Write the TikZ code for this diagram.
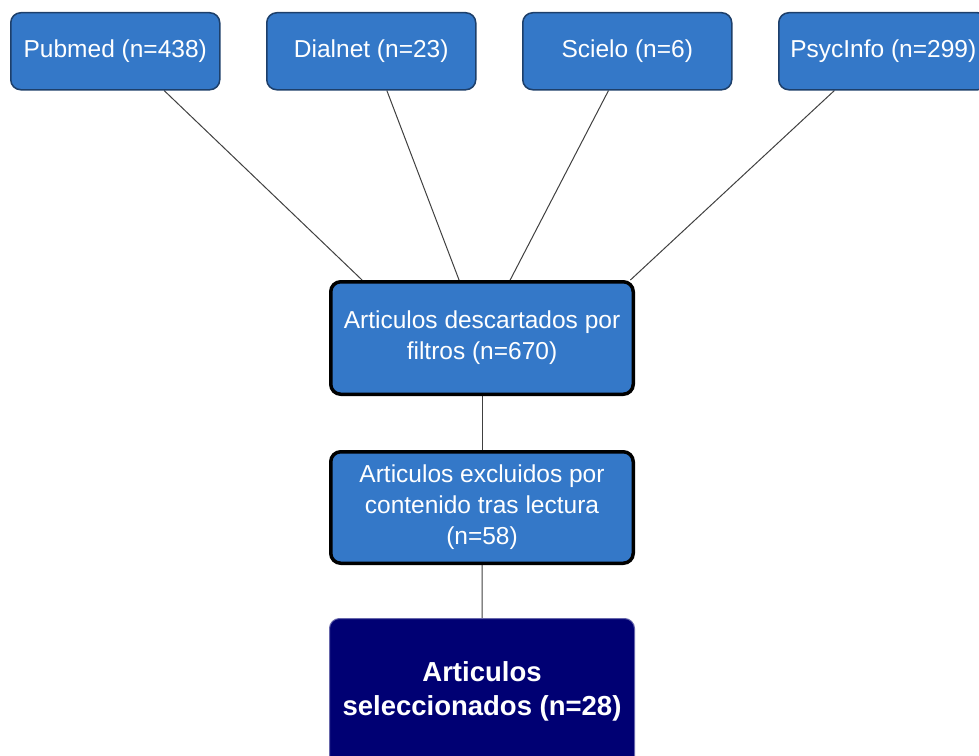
\documentclass[tikz,border=0pt]{standalone}
\usepackage{fontspec}
\setmainfont{Liberation Sans}
\usetikzlibrary{calc,backgrounds}
\definecolor{boxblue}{HTML}{3478C8}
\definecolor{boxedge}{HTML}{1D3F6A}
\definecolor{navy}{HTML}{000073}
\begin{document}
\begin{tikzpicture}[x=1bp,y=-1bp,
  srcbox/.style={draw=boxedge,line width=1.5bp,fill=boxblue,rounded corners=10bp,
    minimum width=209bp,minimum height=77bp,text=white,inner sep=0pt,
    font=\fontsize{24.5bp}{30bp}\selectfont,anchor=north west},
  midbox/.style={draw=black,line width=3.5bp,fill=boxblue,rounded corners=10bp,
    minimum width=302.5bp,text=white,inner sep=0pt,align=center,
    font=\fontsize{24.5bp}{31bp}\selectfont,anchor=north west},
  endbox/.style={draw=navy!60!white,line width=1bp,fill=navy,rounded corners=10bp,
    minimum width=305bp,text=white,inner sep=0pt,align=center,
    font=\bfseries\fontsize{27.5bp}{34bp}\selectfont,anchor=north west},
  link/.style={draw=black!75,line width=1bp}]
\useasboundingbox (0,0) rectangle (979,756);
\begin{scope}
\clip (0,0) rectangle (979,756);
\node[srcbox] (pub) at (10,12) {\raisebox{3bp}{Pubmed (n=438)}};
\node[srcbox] (dia) at (266,12) {\raisebox{3bp}{Dialnet (n=23)}};
\node[srcbox] (sci) at (522,12) {\raisebox{3bp}{Scielo (n=6)}};
\node[srcbox] (psy) at (778,12) {\raisebox{3bp}{PsycInfo (n=299)}};
\node[midbox,minimum height=112.5bp] (fil) at (329,280) {\raisebox{7bp}{\parbox{302bp}{\centering Articulos descartados por\\ filtros (n=670)}}};
\node[midbox,minimum height=111.5bp] (exc) at (329,450) {\raisebox{10bp}{\parbox{302bp}{\centering Articulos excluidos por\\ contenido tras lectura\\ (n=58)}}};
\node[endbox,minimum height=160bp] (sel) at (329,618) {\raisebox{38bp}{\parbox{305bp}{\centering Articulos\\ seleccionados (n=28)}}};
\begin{scope}[on background layer]
\draw[link] ($(pub.south west)!0.732!(pub.south east)$) -- ($(fil.north west)!0.108!(fil.north east)$);
\draw[link] ($(dia.south west)!0.574!(dia.south east)$) -- ($(fil.north west)!0.425!(fil.north east)$);
\draw[link] ($(sci.south west)!0.411!(sci.south east)$) -- ($(fil.north west)!0.592!(fil.north east)$);
\draw[link] ($(psy.south west)!0.268!(psy.south east)$) -- ($(fil.north west)!0.985!(fil.north east)$);
\draw[link] (fil.south) -- (exc.north);
\draw[link] (exc.south) -- (sel.north);
\end{scope}
\end{scope}
\end{tikzpicture}
\end{document}
